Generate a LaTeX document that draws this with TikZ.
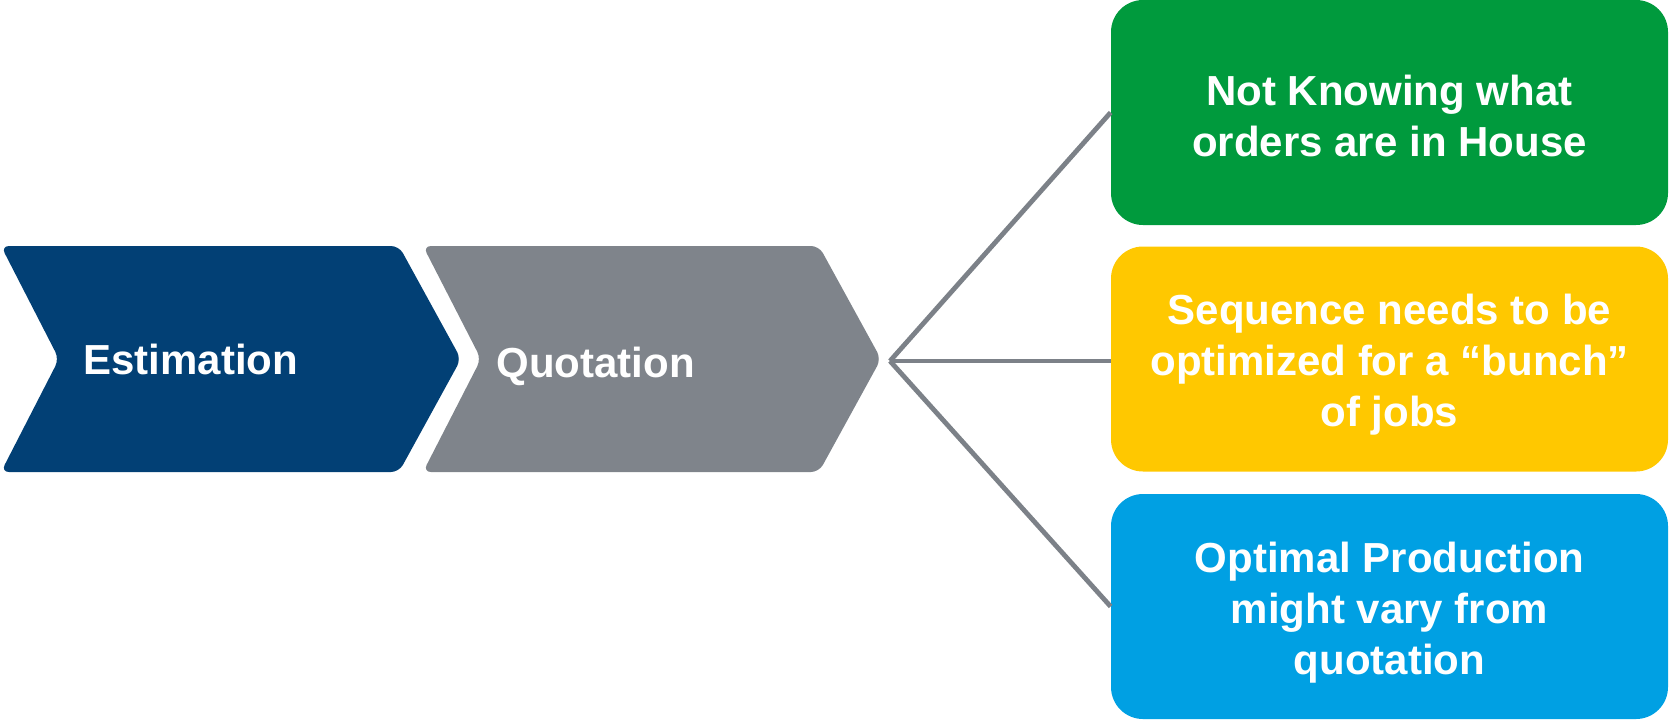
\documentclass[tikz,border=0pt]{standalone}
\usepackage{fontspec}
\setmainfont{Liberation Sans}
\definecolor{stepblue}{RGB}{2,64,117}
\definecolor{stepgray}{RGB}{127,132,139}
\definecolor{linegray}{RGB}{124,129,136}
\definecolor{boxgreen}{RGB}{0,154,61}
\definecolor{boxyellow}{RGB}{255,200,0}
\definecolor{boxblue}{RGB}{0,160,227}
\begin{document}
\begin{tikzpicture}[x=0.5pt,y=-0.5pt,
  lbl/.style={text=white,font=\bfseries\fontsize{21}{25.5}\selectfont},
  box/.style={rounded corners=16pt,minimum width=278.5pt,minimum height=112.5pt,inner sep=0pt},
  boxtext/.style={lbl,inner sep=0pt,align=center},
  steplabel/.style={lbl,inner sep=0pt,anchor=base west},
  link/.style={draw=linegray,line width=2.4pt}]
\useasboundingbox (0,0) rectangle (1670,719);

% process chevrons
\fill[stepblue,rounded corners=4pt]
  (1,246) -- (399,246) -- (461,359) -- (399,472) -- (1,472) -- (59,359) -- cycle;
\fill[stepgray,rounded corners=4pt]
  (423,246) -- (819,246) -- (881,359) -- (819,472) -- (423,472) -- (481,359) -- cycle;
\node[steplabel] (est) at (83,374) {Estimation};
\node[steplabel] (quo) at (496,377) {Quotation};

% issue boxes
\node[box,fill=boxgreen]  (b1) at (1389.5,112.5) {};
\node[box,fill=boxyellow] (b2) at (1389.5,359) {};
\node[box,fill=boxblue]   (b3) at (1389.5,606.5) {};
\node[boxtext] (t1) at ([yshift=-1.5pt]b1.center) {Not Knowing what\\orders are in House};
\node[boxtext] (t2) at ([yshift=-3pt]b2.center) {Sequence needs to be\\optimized for a “bunch”\\of jobs};
\node[boxtext] (t3) at ([yshift=-3pt]b3.center) {Optimal Production\\might vary from\\quotation};

% branching connectors
\coordinate (hub) at (890,361);
\draw[link] (hub) -- (b1.west);
\draw[link] (hub) -- (hub -| b2.west);
\draw[link] (hub) -- (b3.west);
\end{tikzpicture}
\end{document}
